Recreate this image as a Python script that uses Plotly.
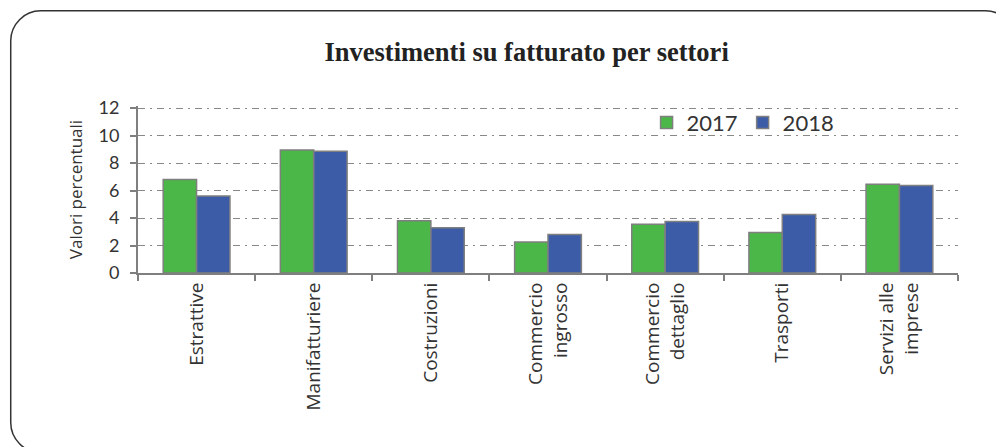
import plotly.graph_objects as go

categories = ["Estrattive", "Manifatturiere", "Costruzioni", "Commercio<br>ingrosso",
              "Commercio<br>dettaglio", "Trasporti", "Servizi alle<br>imprese"]
values_2017 = [6.8, 8.95, 3.8, 2.25, 3.55, 2.95, 6.45]
values_2018 = [5.6, 8.85, 3.3, 2.8, 3.75, 4.25, 6.37]
y_ticks = [0, 2, 4, 6, 8, 10, 12]
y_max = 12.15

OFF = 8  # page body margin
W, H = 1004 - OFF, 447 - OFF
ML, MT = 138.3 - OFF, 106.2 - OFF
MR = W - (958.5 - OFF)
MB = H - (273.3 - OFF)
PW, PH = W - ML - MR, H - MT - MB


def px(x):
    return (x - OFF - ML) / PW


def py(y):
    return (H - MB - (y - OFF)) / PH


fig = go.Figure()
fig.add_trace(go.Bar(name="2017", x=categories, y=values_2017,
                     marker=dict(color="#4bb748", line=dict(color="#7f7f7f", width=1.5))))
fig.add_trace(go.Bar(name="2018", x=categories, y=values_2018,
                     marker=dict(color="#3c5ca8", line=dict(color="#7f7f7f", width=1.5))))

# rounded frame
x0, y0, x1, y1, r = 11, 11, 1016, 453, 30
k = 0.45 * r
pts = [
    ("M", [(x0 + r, y0)]),
    ("L", [(x1 - r, y0)]),
    ("C", [(x1 - k, y0), (x1, y0 + k), (x1, y0 + r)]),
    ("L", [(x1, y1 - r)]),
    ("C", [(x1, y1 - k), (x1 - k, y1), (x1 - r, y1)]),
    ("L", [(x0 + r, y1)]),
    ("C", [(x0 + k, y1), (x0, y1 - k), (x0, y1 - r)]),
    ("L", [(x0, y0 + r)]),
    ("C", [(x0, y0 + k), (x0 + k, y0), (x0 + r, y0)]),
]
path = ""
for cmd, plist in pts:
    path += cmd + " ".join(f"{px(a):.5f},{py(b):.5f}" for a, b in plist) + " "
path += "Z"
fig.add_shape(type="path", path=path, xref="paper", yref="paper",
              line=dict(color="#333333", width=1.5), layer="below")

fig.update_layout(
    width=W, height=H,
    margin=dict(l=ML, r=MR, t=MT, b=MB, pad=0),
    paper_bgcolor="white", plot_bgcolor="white",
    barmode="group", bargap=0.43, bargroupgap=0,
    title=dict(text="<b>Investimenti su fatturato per settori</b>",
               font=dict(family="Liberation Serif", size=26.5, color="#222222"),
               x=px(527), xref="paper", xanchor="center",
               y=1 - (52 - OFF) / H, yref="container", yanchor="middle"),
    legend=dict(orientation="h", x=px(647), y=py(123), xanchor="left", yanchor="middle",
                font=dict(family="Lato", size=22, color="#333333"),
                bgcolor="rgba(0,0,0,0)", itemwidth=30, tracegroupgap=0),
    xaxis=dict(showline=True, linecolor="#7f7f7f", linewidth=2,
               ticks="outside", ticklen=6, tickcolor="#7f7f7f", tickwidth=1.5,
               tickson="boundaries", tickangle=-90,
               tickfont=dict(family="Open Sans", size=19, color="#333333"),
               showgrid=False, zeroline=False, fixedrange=True),
    yaxis=dict(range=[0, y_max], tickvals=y_ticks, showline=True, linecolor="#7f7f7f", linewidth=2,
               ticks="outside", ticklen=6, tickcolor="#7f7f7f", tickwidth=1.5,
               ticklabelstandoff=7,
               tickfont=dict(family="Lato", size=18, color="#333333"),
               showgrid=True, gridcolor="#888888", gridwidth=1.3, griddash="7px,5px,2px,5px",
               zeroline=False, title=dict(text="Valori percentuali", standoff=12,
                                          font=dict(family="Open Sans", size=17, color="#333333"))),
    showlegend=True,
)

fig.write_html("out.html")
